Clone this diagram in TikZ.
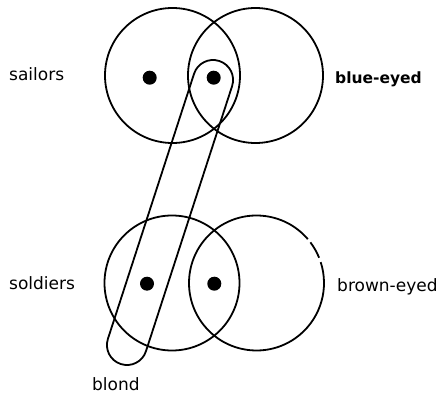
\documentclass[tikz,border=0pt]{standalone}
\usepackage{fontspec}
\setmainfont{DejaVu Sans}
\begin{document}
\begin{tikzpicture}[x=1pt,y=1pt,
  setcircle/.style={draw=black,line width=1.8pt},
  elem/.style={fill=black},
  lbl/.style={anchor=base west,inner sep=0pt,font=\fontsize{17}{19}\selectfont},
  lblb/.style={anchor=base west,inner sep=0pt,font=\fontsize{15.5}{18}\selectfont\bfseries}]
\useasboundingbox (0,0) rectangle (438,393);
% circle centres
\coordinate (sail) at (172.5,317.5);
\coordinate (blue) at (255.5,317.5);
\coordinate (sold) at (172,110);
\coordinate (brown) at (256.5,110);
\draw[setcircle] (sail) circle[radius=67.5];
\draw[setcircle] (blue) circle[radius=67.5];
\draw[setcircle] (sold) circle[radius=67.5];
\draw[setcircle] ([shift={(40.5:67.5)}]brown) arc[start angle=40.5,end angle=378,radius=67.5];
\draw[setcircle] ([shift={(22:67.5)}]brown) arc[start angle=22,end angle=37,radius=67.5];
% elements
\fill[elem] (149.7,315.3) circle[radius=7];
\fill[elem] (213.7,315.3) circle[radius=7];
\fill[elem] (147,109.3) circle[radius=7];
\fill[elem] (214.3,109.3) circle[radius=7];
% blond capsule
\coordinate (blondmid) at (170,180.5);
\begin{scope}[shift={(blondmid)},rotate=-18]
\draw[setcircle,rounded corners=19.9pt] (-20,-159.3) rectangle (20,159.3);
\end{scope}
% labels
\node[lbl] (lsail) at (9,312) {sailors};
\node[lblb] (lblue) at (335,309) {blue-eyed};
\node[lbl] (lsold) at (9,103) {soldiers};
\node[lbl] (lbrown) at (337,101) {brown-eyed};
\node[lbl] (lblond) at (92,3) {blond};
\end{tikzpicture}
\end{document}
